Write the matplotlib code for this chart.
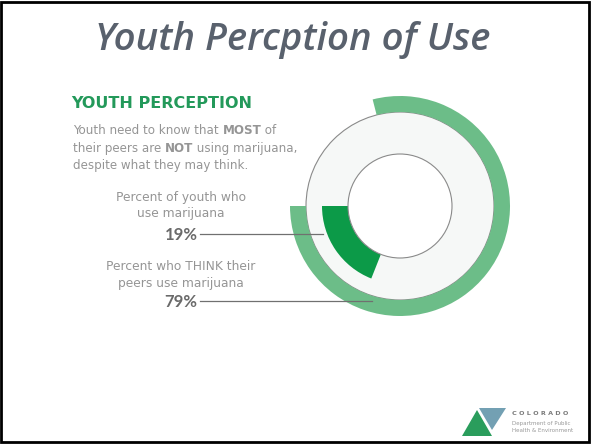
import matplotlib
matplotlib.use("Agg")
import matplotlib.pyplot as plt
from matplotlib.patches import Wedge, Circle, Rectangle, Polygon

# ---- data ----
title = "Youth Percption of Use"
heading = "YOUTH PERCEPTION"
body_lines = [
    [("Youth need to know that ", "normal"), ("MOST", "bold"), (" of", "normal")],
    [("their peers are ", "normal"), ("NOT", "bold"), (" using marijuana,", "normal")],
    [("despite what they may think.", "normal")],
]
labels = [["Percent of youth who", "use marijuana"],
          ["Percent who THINK their", "peers use marijuana"]]
values = [19, 79]          # percent
value_labels = ["19%", "79%"]

W, H = 591, 444
fig = plt.figure(figsize=(W / 100, H / 100), dpi=100)
ax = fig.add_axes([0, 0, 1, 1])
ax.set_xlim(0, W)
ax.set_ylim(0, H)
ax.axis("off")

def Y(py):
    return H - py

FONT = "DejaVu Sans"
GRAY_TXT = "#959595"
DARK_TXT = "#6a6a6a"

# border
ax.add_patch(Rectangle((1, 2), W - 3, H - 4, fill=False, ec="black", lw=2))

# title
ax.text(293, Y(40), title, ha="center", va="center", fontsize=27.6,
        family="Open Sans", style="italic", weight="semibold", color="#59616d")

# heading
ax.text(71, Y(104), heading, ha="left", va="center", fontsize=11.5,
        family="DejaVu Sans", weight="bold", color="#23995a")

fig.canvas.draw()
renderer = fig.canvas.get_renderer()
inv = ax.transData.inverted()

# body text with mixed bold
for i, segs in enumerate(body_lines):
    x = 73
    y = Y(131 + i * 17.5)
    for s, w in segs:
        t = ax.text(x, y, s, ha="left", va="center", fontsize=8.6, family=FONT,
                    weight=w, color=GRAY_TXT)
        bb = t.get_window_extent(renderer)
        x = inv.transform((bb.x1, bb.y0))[0]

# ring chart
cx, cy = 400, Y(206)
# background disk
ax.add_patch(Circle((cx, cy), 94, fc="#f6f8f7", ec="#8a8a8a", lw=0.8, zorder=1))
ax.add_patch(Circle((cx, cy), 52, fc="white", ec="#8a8a8a", lw=0.8, zorder=3))
# outer ring : 79 %
ax.add_patch(Wedge((cx, cy), 110, 180, 180 + values[1] * 3.6, width=16,
                   fc="#6cbd88", ec="none", zorder=2))
# inner arc : 19 %
ax.add_patch(Wedge((cx, cy), 78, 180, 180 + values[0] * 3.6, width=26,
                   fc="#0c9a48", ec="none", zorder=2))

# left labels
label_y = [(198, 213), (266, 283)]
value_y = [234, 301]
line_end = [323, 372]
for lab, (y1, y2), v, vy, xe in zip(labels, label_y, value_labels, value_y, line_end):
    ax.text(181, Y(y1), lab[0], ha="center", va="center", fontsize=8.8,
            family=FONT, color=GRAY_TXT)
    ax.text(181, Y(y2), lab[1], ha="center", va="center", fontsize=8.8,
            family=FONT, color=GRAY_TXT)
    t = ax.text(181, Y(vy + 1), v, ha="center", va="center", fontsize=12,
                family="Lato", weight="bold", color=DARK_TXT)
    bb = t.get_window_extent(renderer)
    xs = inv.transform((bb.x1, bb.y0))[0] + 2
    ax.plot([xs, xe], [Y(vy), Y(vy)], color="#707070", lw=0.9, zorder=4)

# logo (bottom right)
ax.add_patch(Polygon([(462, Y(436)), (477, Y(410)), (492, Y(436))],
                     closed=True, fc="#2a9d5c", ec="none"))
ax.add_patch(Polygon([(479, Y(408)), (506, Y(408)), (492, Y(430))],
                     closed=True, fc="#5a8fa6", ec="none", alpha=0.85))
ax.text(512, Y(413), "C O L O R A D O", ha="left", va="center", fontsize=4.6,
        family="DejaVu Sans", weight="bold", color="#7a7a7a")
ax.text(512, Y(423), "Department of Public", ha="left", va="center",
        fontsize=4.0, family="DejaVu Sans", color="#999999")
ax.text(512, Y(430), "Health & Environment", ha="left", va="center",
        fontsize=4.0, family="DejaVu Sans", color="#999999")

fig.savefig("out.png", dpi=100)
